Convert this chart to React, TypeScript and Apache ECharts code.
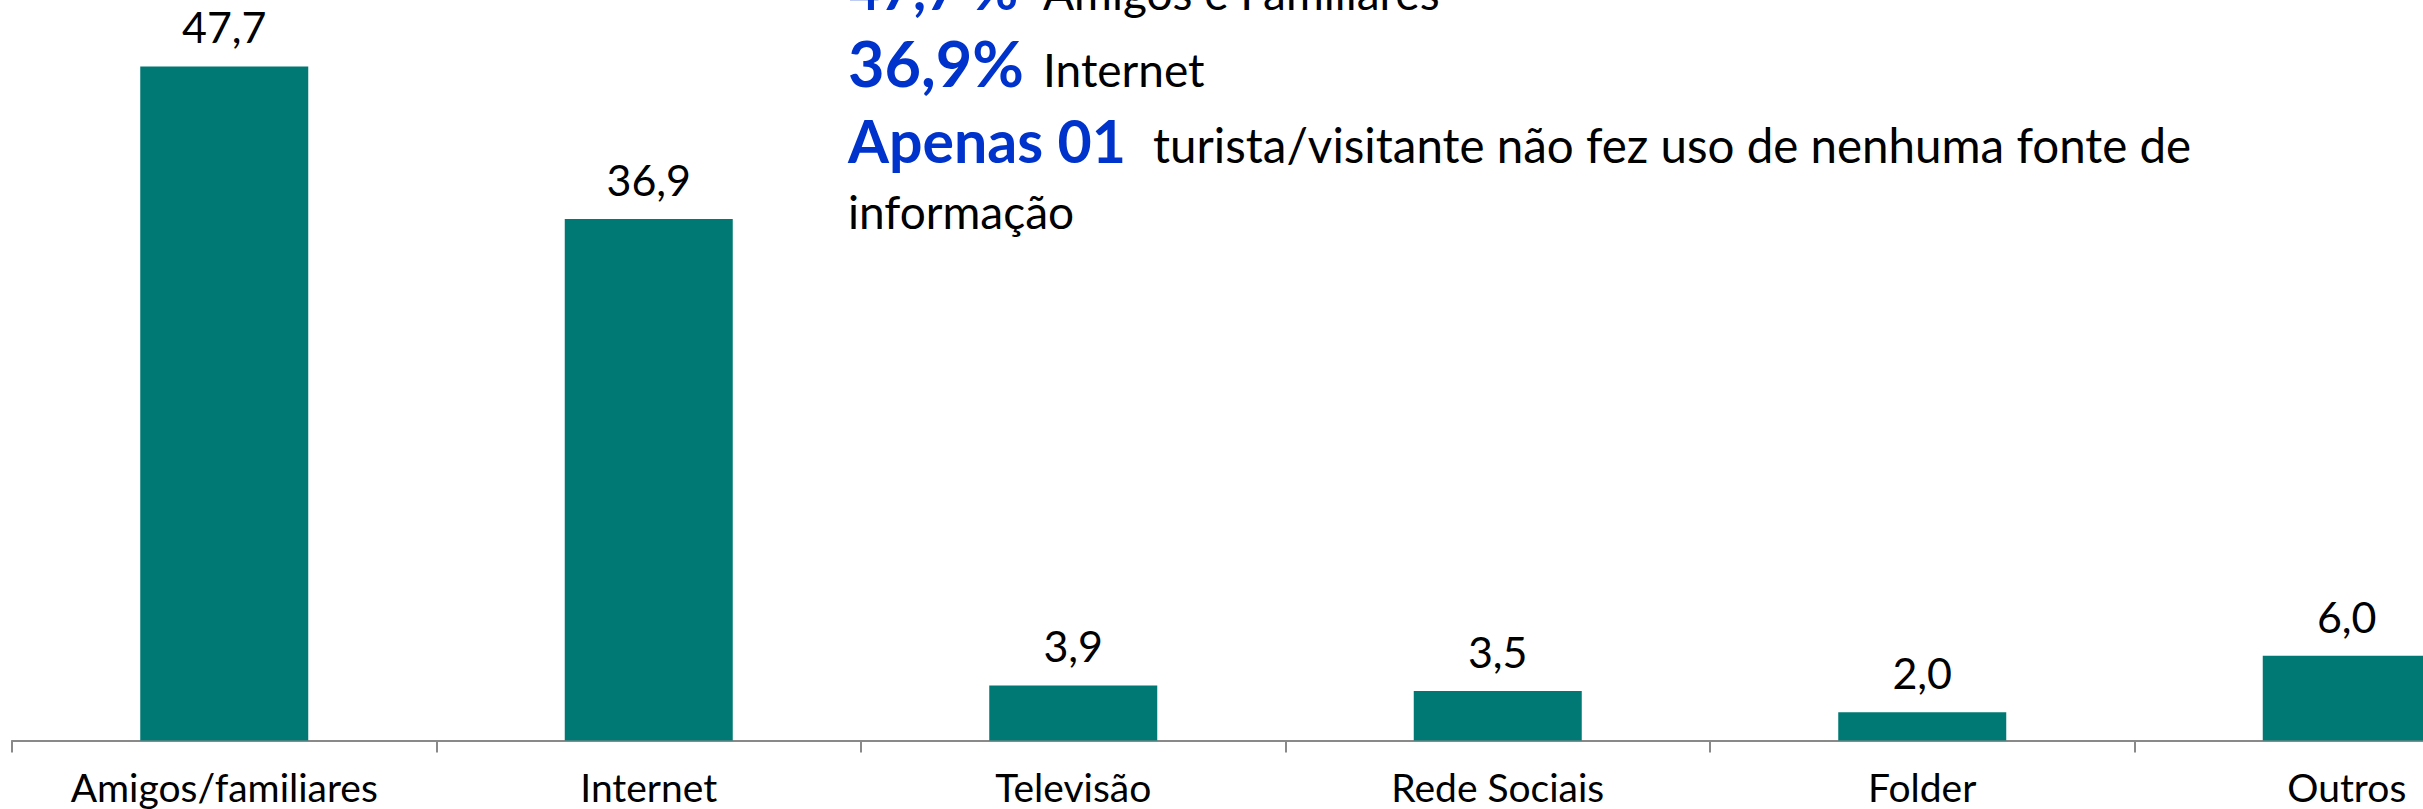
import React, { useEffect, useRef } from "react";
import * as echarts from "echarts";

const categories = ["Amigos/familiares", "Internet", "Televisão", "Rede Sociais", "Folder", "Outros"];
const values = [47.7, 36.9, 3.9, 3.5, 2.0, 6.0];

const highlightLines = [
  { blue: "47,7 %", text: "Amigos e Familiares" },
  { blue: "36,9%", text: "Internet" },
  { blue: "Apenas 01", text: "turista/visitante não fez uso de nenhuma fonte de" },
  { blue: "", text: "informação" },
];

const FONT = "Lato, 'Noto Sans', sans-serif";
const BLUE = "#0033CC";
const TEAL = "#007873";

export default function App() {
  const ref = useRef<HTMLDivElement>(null);
  useEffect(() => {
    if (!ref.current) return;
    const chart = echarts.init(ref.current, null, { renderer: "svg" });
    const blueSizes = [56, 63, 59, 59];
    const textSizes = [46, 46, 47.5, 46];
    const baselines = [10, 87, 163, 229];
    const blackX = [1043, 1043, 1153, 848];
    const graphics: any[] = [];
    highlightLines.forEach((ln, i) => {
      if (ln.blue) {
        graphics.push({
          type: "text",
          x: 848,
          y: baselines[i] - 0.387 * blueSizes[i],
          style: {
            text: ln.blue,
            fill: BLUE,
            fontSize: blueSizes[i],
            fontWeight: "bold",
            fontFamily: FONT,
            textVerticalAlign: "middle",
          },
        });
      }
      graphics.push({
        type: "text",
        x: blackX[i],
        y: baselines[i] - 0.387 * textSizes[i],
        style: {
          text: ln.text,
          fill: "#000000",
          fontSize: textSizes[i],
          fontFamily: FONT,
          textVerticalAlign: "middle",
        },
      });
    });

    chart.setOption({
      animation: false,
      grid: { left: 12, top: 34, width: 2547, bottom: 68.5, containLabel: false, outerBoundsMode: "none" },
      xAxis: {
        type: "category",
        data: categories,
        axisLine: { show: true, lineStyle: { color: "#898989", width: 2 } },
        axisTick: { show: true, length: 12, lineStyle: { color: "#898989", width: 2 } },
        axisLabel: { color: "#000", fontSize: 39, fontFamily: FONT, margin: 27, interval: 0 },
      },
      yAxis: { type: "value", min: 0, max: 50, show: false, splitLine: { show: false } },
      series: [
        {
          type: "bar",
          data: values,
          barWidth: 168,
          itemStyle: { color: TEAL },
          label: {
            show: true,
            position: "top",
            distance: 18,
            color: "#000",
            fontSize: 43,
            fontFamily: FONT,
            formatter: (p: any) => p.value.toFixed(1).replace(".", ","),
          },
        },
      ],
      graphic: graphics,
    });
    return () => chart.dispose();
  }, []);
  return (
    <div
      ref={ref}
      style={{ position: "fixed", left: 0, top: 0, width: 2423, height: 809, overflow: "hidden", background: "#fff" }}
    />
  );
}
